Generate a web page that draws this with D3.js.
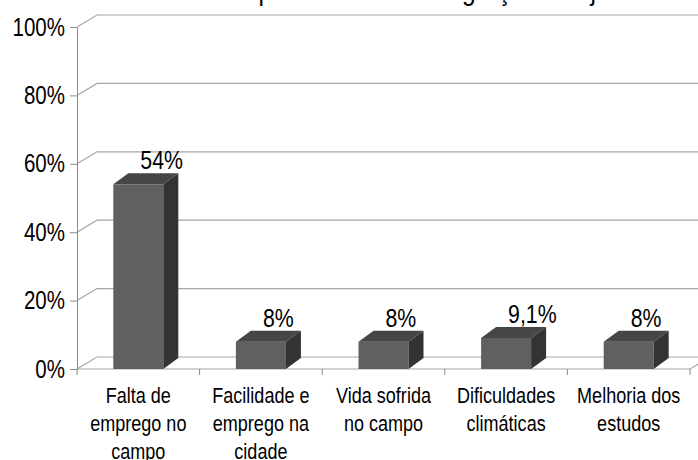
<!DOCTYPE html>
<html>
<head>
<meta charset="utf-8">
<script src="https://cdn.jsdelivr.net/npm/d3@7"></script>
<style>
	body { margin: 0; background: #fff; }
	svg { display: block; font-family: 'Liberation Sans', Arial, sans-serif; }
</style>
</head>
<body>
<div id="chart"></div>
<script>
var titleText = 'Principais motivos da migração dos jovens';

var categories = [
	'Falta de\nemprego no\ncampo',
	'Facilidade e\nemprego na\ncidade',
	'Vida sofrida\nno campo',
	'Dificuldades\nclimáticas',
	'Melhoria dos\nestudos'
];
var values = [0.54, 0.08, 0.08, 0.091, 0.08];
var valueLabels = ['54%', '8%', '8%', '9,1%', '8%'];
var yTicks = [0, 0.2, 0.4, 0.6, 0.8, 1];

var width = 698,
	height = 460,
	plot = {left: 77, right: 690, top: 27, bottom: 369},
	wall = {dx: 20, dy: -12},
	box = {dx: 15, dy: -11},
	barWidth = 50,
	squeeze = 0.82; // no narrow font installed, so texts are scaled horizontally

function narrow(px, py) {
	return 'translate(' + px + ',' + py + ') scale(' + squeeze + ',1)';
}

var svg = d3.select('#chart')
	.append('svg')
	.attr('width', width)
	.attr('height', height);

var x = d3.scaleBand()
	.domain(categories)
	.range([plot.left, plot.right]);

var y = d3.scaleLinear()
	.domain([0, 1])
	.range([plot.bottom, plot.top]);

// title, only its descenders show at the top edge
svg.append('text')
	.attr('transform', narrow(197, 0))
	.style('font-size', '30px')
	.style('fill', '#000')
	.text(titleText);

// side wall diagonals and back wall gridlines
svg.append('g')
	.selectAll('path')
	.data(yTicks)
	.enter()
	.append('path')
	.attr('d', function(d) {
		return 'M' + plot.left + ',' + y(d) +
			'L' + (plot.left + wall.dx) + ',' + (y(d) + wall.dy) +
			'L' + width + ',' + (y(d) + wall.dy);
	})
	.attr('fill', 'none')
	.attr('stroke', '#a6a6a6')
	.attr('stroke-width', 1.2);

// floor front edge
svg.append('path')
	.attr('d', 'M' + plot.left + ',' + plot.bottom + 'L' + plot.right + ',' + plot.bottom +
		'L' + (plot.right + wall.dx) + ',' + (plot.bottom + wall.dy))
	.attr('fill', 'none')
	.attr('stroke', '#a6a6a6')
	.attr('stroke-width', 1.2);

// y axis
var yAxis = svg.append('g')
	.attr('transform', 'translate(' + plot.left + ',0)')
	.call(d3.axisLeft(y)
		.tickValues(yTicks)
		.tickFormat(d3.format('.0%'))
		.tickSize(7)
		.tickSizeOuter(0)
		.tickPadding(4));

yAxis.attr('font-family', null).attr('font-size', null);
yAxis.select('.domain').attr('stroke', '#8c8c8c');
yAxis.selectAll('.tick line').attr('stroke', '#8c8c8c');
yAxis.selectAll('.tick text')
	.attr('x', null)
	.attr('transform', narrow(-12, 0))
	.style('font-size', '25px')
	.attr('fill', '#000');

// category boundary ticks
var edges = categories.map(function(c) { return x(c); }).concat([plot.right]);

svg.append('g')
	.selectAll('line')
	.data(edges)
	.enter()
	.append('line')
	.attr('x1', function(d) { return d; })
	.attr('x2', function(d) { return d; })
	.attr('y1', plot.bottom)
	.attr('y2', plot.bottom + 6)
	.attr('stroke', '#8c8c8c');

// bars
var bars = svg.append('g')
	.selectAll('g')
	.data(values)
	.enter()
	.append('g');

function cx(i) {
	return x(categories[i]) + x.bandwidth() / 2;
}

bars.append('rect')
	.attr('x', function(d, i) { return cx(i) - barWidth / 2; })
	.attr('y', function(d) { return y(d); })
	.attr('width', barWidth)
	.attr('height', function(d) { return y(0) - y(d); })
	.attr('fill', '#606060');

bars.append('path')
	.attr('d', function(d, i) {
		var x0 = cx(i) - barWidth / 2, x1 = x0 + barWidth, t = y(d);
		return 'M' + x0 + ',' + t + 'L' + (x0 + box.dx) + ',' + (t + box.dy) +
			'L' + (x1 + box.dx) + ',' + (t + box.dy) + 'L' + x1 + ',' + t + 'Z';
	})
	.attr('fill', '#464646');

bars.append('path')
	.attr('d', function(d, i) {
		var x1 = cx(i) + barWidth / 2, t = y(d), b = y(0);
		return 'M' + x1 + ',' + t + 'L' + (x1 + box.dx) + ',' + (t + box.dy) +
			'L' + (x1 + box.dx) + ',' + (b + box.dy) + 'L' + x1 + ',' + b + 'Z';
	})
	.attr('fill', '#333333');

// value labels
bars.append('text')
	.attr('transform', function(d, i) { return narrow(cx(i) + 2, y(d) - 15); })
	.style('font-size', '26px')
	.style('fill', '#000')
	.text(function(d, i) { return valueLabels[i]; });

// category labels
var catLabels = svg.append('g')
	.selectAll('text')
	.data(categories)
	.enter()
	.append('text')
	.attr('text-anchor', 'middle')
	.attr('transform', function(d) { return narrow(x(d) + x.bandwidth() / 2, 403); })
	.style('font-size', '22px')
	.style('fill', '#000');

catLabels.each(function(d) {
	var el = d3.select(this);
	var lines = d.split('\n');
	for (var i = 0; i < lines.length; i++) {
		el.append('tspan')
			.attr('x', 0)
			.attr('y', i * 28)
			.text(lines[i]);
	}
});
</script>
</body>
</html>
